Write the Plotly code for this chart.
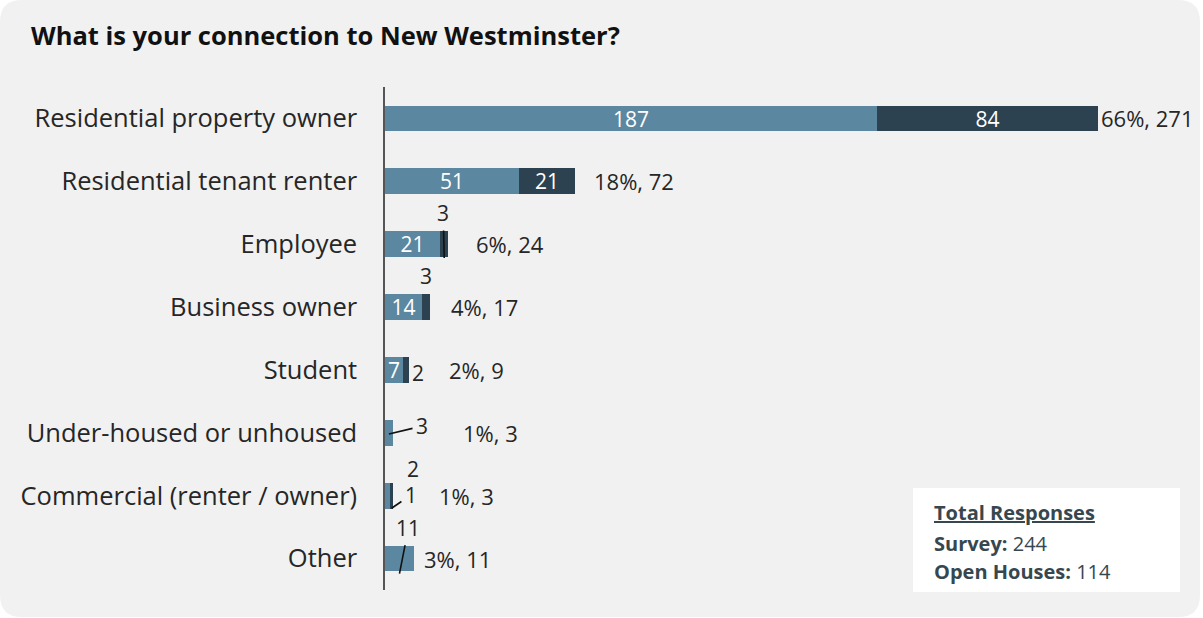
import plotly.graph_objects as go

# --- data -----------------------------------------------------------------
categories = [
    "Residential property owner",
    "Residential tenant renter",
    "Employee",
    "Business owner",
    "Student",
    "Under-housed or unhoused",
    "Commercial (renter / owner)",
    "Other",
]
survey = [187, 51, 21, 14, 7, 3, 2, 11]
open_houses = [84, 21, 3, 3, 2, 0, 1, 0]
total_survey = 244
total_open_houses = 114

# --- layout geometry (pixels) ----------------------------------------------
FIG_W, FIG_H = 1203, 618
L, R, T, B = 385, 10, 87, 28
PW = FIG_W - L - R
PH = FIG_H - T - B
X_MAX = 307

LIGHT = "#5c87a1"
DARK = "#2d4250"
TEXT = "#262626"
FONT = "Open Sans"
NUM_SIZE = 22


def px_x(px):
    return (px - L) / PW


def px_y(py):
    return (FIG_H - B - py) / PH


rows = list(range(len(categories)))
totals = [s + o for s, o in zip(survey, open_houses)]
grand = sum(totals)

# small segments labelled outside the bar: (row, series, y nudge, ax, ay, leader)
small_labels = [
    (2, "open", 0.22, -1, -45, True),
    (3, "open", 0.0, 0, -31, False),
    (4, "open", 0.0, 12, 3, False),
    (5, "survey", 0.02, 33, -8, True),
    (6, "survey", 0.0, 25, -27, False),
    (6, "open", 0.2, 19, -13, True),
    (7, "survey", 0.24, 9, -46, True),
]
outside = {(r, s) for r, s, *_ in small_labels}

survey_txt = ["" if (r, "survey") in outside or v == 0 else str(v)
              for r, v in zip(rows, survey)]
open_txt = ["" if (r, "open") in outside or v == 0 else str(v)
            for r, v in zip(rows, open_houses)]

fig = go.Figure()
for vals, txt, color, name in [
    (survey, survey_txt, LIGHT, "Survey"),
    (open_houses, open_txt, DARK, "Open Houses"),
]:
    fig.add_trace(go.Bar(
        y=rows, x=vals, orientation="h", name=name,
        marker=dict(color=color, line=dict(width=0)),
        text=txt, textposition="inside", insidetextanchor="middle",
        textangle=0, constraintext="none",
        textfont=dict(family=FONT, size=NUM_SIZE - 1, color="white"),
        width=0.41, hoverinfo="skip",
    ))

annotations = []

# percentage / total labels after each bar
total_gap = [1, 17, 26, 19, 38, 68, 44, 8]
for r, t, g in zip(rows, totals, total_gap):
    annotations.append(dict(
        x=t, y=r, xref="x", yref="y", xanchor="left", yanchor="middle",
        xshift=g, showarrow=False,
        text=f"{round(100 * t / grand)}%, {t}",
        font=dict(family=FONT, size=NUM_SIZE, color=TEXT),
    ))

for r, series, dy, ax, ay, leader in small_labels:
    if series == "survey":
        val, base = survey[r], 0
    else:
        val, base = open_houses[r], survey[r]
    xc = base + val / 2
    common = dict(x=xc, y=r + dy, xref="x", yref="y", text=str(val),
                  font=dict(family=FONT, size=NUM_SIZE - 1, color=TEXT))
    if leader:
        annotations.append(dict(
            **common, showarrow=True, ax=ax, ay=ay, axref="pixel", ayref="pixel",
            arrowhead=0, arrowwidth=1.6, arrowcolor="#111111",
            startstandoff=2,
        ))
    else:
        annotations.append(dict(
            **common, showarrow=False, xshift=ax, yshift=-ay,
            xanchor="center", yanchor="middle",
        ))

# title
annotations.append(dict(
    x=px_x(29), y=px_y(35), xref="paper", yref="paper",
    xanchor="left", yanchor="middle", showarrow=False,
    text="<b>What is your connection to New Westminster?</b>",
    font=dict(family=FONT, size=25.5, color="#111111"),
))

# response totals box
box_lines = [
    ("<b><u>Total Responses</u></b>", 512),
    (f"<b>Survey:</b> {total_survey}", 543),
    (f"<b>Open Houses:</b> {total_open_houses}", 571),
]
for txt, py in box_lines:
    annotations.append(dict(
        x=px_x(932), y=px_y(py), xref="paper", yref="paper",
        xanchor="left", yanchor="middle", showarrow=False, text=txt,
        font=dict(family=FONT, size=20, color="#37474f"),
    ))


# rounded card background
def rounded_rect(x0, y0, x1, y1, rad):
    X = px_x
    Y = px_y
    return (
        f"M {X(x0 + rad)} {Y(y0)} L {X(x1 - rad)} {Y(y0)} "
        f"Q {X(x1)} {Y(y0)} {X(x1)} {Y(y0 + rad)} "
        f"L {X(x1)} {Y(y1 - rad)} Q {X(x1)} {Y(y1)} {X(x1 - rad)} {Y(y1)} "
        f"L {X(x0 + rad)} {Y(y1)} Q {X(x0)} {Y(y1)} {X(x0)} {Y(y1 - rad)} "
        f"L {X(x0)} {Y(y0 + rad)} Q {X(x0)} {Y(y0)} {X(x0 + rad)} {Y(y0)} Z"
    )


shapes = [
    dict(type="path", xref="paper", yref="paper", layer="below",
         path=rounded_rect(0, 0, 1200, 617, 22),
         fillcolor="#f1f1f1", line=dict(width=0)),
    dict(type="rect", xref="paper", yref="paper", layer="above",
         x0=px_x(913), x1=px_x(1180), y0=px_y(592), y1=px_y(488),
         fillcolor="white", line=dict(width=0)),
]

fig.update_layout(
    width=FIG_W, height=FIG_H,
    margin=dict(l=L, r=R, t=T, b=B, pad=0),
    paper_bgcolor="white", plot_bgcolor="rgba(0,0,0,0)",
    barmode="stack", bargap=0, showlegend=False,
    font=dict(family=FONT, color=TEXT),
    annotations=annotations, shapes=shapes,
    xaxis=dict(range=[0, X_MAX], visible=False, fixedrange=True),
    yaxis=dict(
        range=[len(categories) - 0.5, -0.5],
        tickmode="array", tickvals=rows, ticktext=categories,
        tickfont=dict(family=FONT, size=25.5, color=TEXT),
        ticks="", ticklabelstandoff=21,
        showline=True, linecolor="#555555", linewidth=1.5,
        showgrid=False, zeroline=False, fixedrange=True,
    ),
)

fig.write_html("out.html")
